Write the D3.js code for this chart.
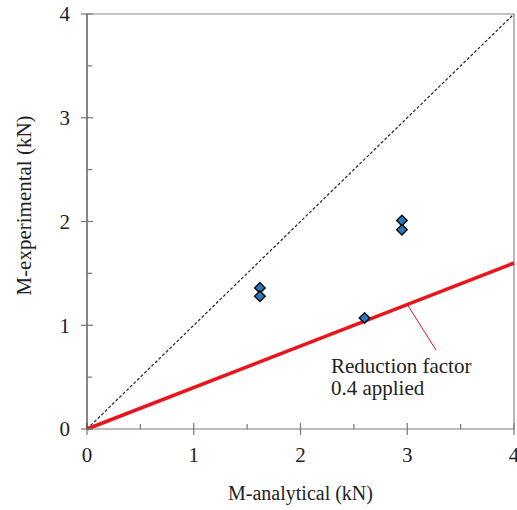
<!DOCTYPE html>
<html>
<head>
<meta charset="utf-8">
<script src="https://cdn.jsdelivr.net/npm/d3@7"></script>
<style>
  body { margin: 0; background: #fff; }
  svg text { font-family: "Liberation Serif", Tinos, "Times New Roman", Times, "DejaVu Serif", serif; }
</style>
</head>
<body>
<div id="chart"></div>
<script>
// measured points (kN)
const mAnalytical = [1.62, 1.62, 2.95, 2.95, 2.60];
const mExperimental = [1.36, 1.28, 2.01, 1.92, 1.07];
const majorTicks = [0, 1, 2, 3, 4];
const minorTicks = [0.5, 1.5, 2.5, 3.5];
const reductionFactor = 0.4;
const annotationLines = ['Reduction factor', '0.4 applied'];

var W = 517, H = 510;
var margin = {top: 14, right: 3, bottom: 81, left: 87};
var width = W - margin.left - margin.right;
var height = H - margin.top - margin.bottom;

var svg = d3.select('#chart').append('svg')
  .attr('width', W)
  .attr('height', H)
  .attr('fill', '#222');

var g = svg.append('g')
  .attr('transform', `translate(${margin.left}, ${margin.top})`);

const xScale = d3.scaleLinear().domain([0, 4]).range([0, width]);
const yScale = d3.scaleLinear().domain([0, 4]).range([height, 0]);

// box (top + right)
g.append('line').attr('x1', 0).attr('x2', width).attr('y1', 0).attr('y2', 0)
  .attr('stroke', '#888').attr('stroke-width', 1.2);
g.append('line').attr('x1', width).attr('x2', width).attr('y1', 0).attr('y2', height)
  .attr('stroke', '#888').attr('stroke-width', 1.2);

// 1:1 line
g.append('line')
  .attr('x1', xScale(0)).attr('y1', yScale(0))
  .attr('x2', xScale(4)).attr('y2', yScale(4))
  .attr('stroke', '#222').attr('stroke-width', 1.2)
  .attr('stroke-dasharray', '3,2');

// reduced line
g.append('line')
  .attr('x1', xScale(0)).attr('y1', yScale(0))
  .attr('x2', xScale(4)).attr('y2', yScale(4 * reductionFactor))
  .attr('stroke', '#e8161c').attr('stroke-width', 3.5);

// axes
var xAxis = g.append('g').attr('transform', `translate(0, ${height})`);
xAxis.append('line').attr('x1', 0).attr('x2', width)
  .attr('stroke', '#777').attr('stroke-width', 1.2);
xAxis.selectAll('.major').data(majorTicks).join('line')
  .attr('x1', d => xScale(d)).attr('x2', d => xScale(d))
  .attr('y1', -6).attr('y2', 6)
  .attr('stroke', '#777').attr('stroke-width', 1.2);
xAxis.selectAll('.minor').data(minorTicks).join('line')
  .attr('x1', d => xScale(d)).attr('x2', d => xScale(d))
  .attr('y1', -5).attr('y2', 0)
  .attr('stroke', '#777').attr('stroke-width', 1.2);
xAxis.selectAll('text').data(majorTicks).join('text')
  .attr('x', d => xScale(d)).attr('y', 33)
  .attr('text-anchor', 'middle')
  .attr('font-size', 21)
  .text(d => d);

var yAxis = g.append('g');
yAxis.append('line').attr('y1', 0).attr('y2', height)
  .attr('stroke', '#333').attr('stroke-width', 1.2);
yAxis.selectAll('.major').data(majorTicks).join('line')
  .attr('y1', d => yScale(d)).attr('y2', d => yScale(d))
  .attr('x1', -6).attr('x2', 6)
  .attr('stroke', '#777').attr('stroke-width', 1.2);
yAxis.selectAll('.minor').data(minorTicks).join('line')
  .attr('y1', d => yScale(d)).attr('y2', d => yScale(d))
  .attr('x1', 0).attr('x2', 5)
  .attr('stroke', '#777').attr('stroke-width', 1.2);
yAxis.selectAll('text').data(majorTicks).join('text')
  .attr('x', -17).attr('y', d => yScale(d))
  .attr('dy', '0.35em')
  .attr('text-anchor', 'end')
  .attr('font-size', 21)
  .text(d => d);

// axis titles
g.append('text')
  .attr('x', width / 2).attr('y', height + 71)
  .attr('text-anchor', 'middle')
  .attr('font-size', 20)
  .text('M-analytical (kN)');

g.append('text')
  .attr('transform', `translate(-56, ${height / 2 - 16}) rotate(-90)`)
  .attr('text-anchor', 'middle')
  .attr('font-size', 21)
  .text('M-experimental (kN)');

// annotation
var ax = 3.0;
g.append('line')
  .attr('x1', xScale(ax)).attr('y1', yScale(ax * reductionFactor))
  .attr('x2', xScale(3.27)).attr('y2', yScale(0.76))
  .attr('stroke', '#e8161c').attr('stroke-width', 1);
g.append('g').selectAll('text').data(annotationLines).join('text')
  .attr('x', xScale(2.285))
  .attr('y', (d, i) => yScale(0.54) + i * 22)
  .attr('font-size', 21)
  .text(d => d);

// diamonds
const diamond = {
  draw(context, size) {
    const r = Math.sqrt(size) / 2;
    context.moveTo(0, -r);
    context.lineTo(r, 0);
    context.lineTo(0, r);
    context.lineTo(-r, 0);
    context.closePath();
  }
};
const points = mAnalytical.map((x, i) => ({x: x, y: mExperimental[i]}));
g.append('g').selectAll('path').data(points).join('path')
  .attr('transform', d => `translate(${xScale(d.x)}, ${yScale(d.y)})`)
  .attr('d', d3.symbol().type(diamond).size(110))
  .attr('fill', '#2a78c0')
  .attr('stroke', '#111')
  .attr('stroke-width', 1.5);
</script>
</body>
</html>
